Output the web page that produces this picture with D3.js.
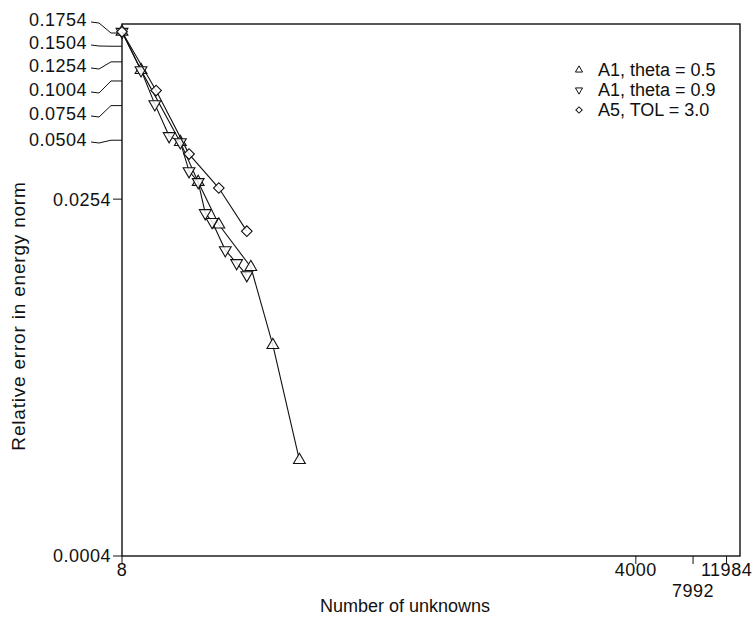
<!DOCTYPE html>
<html>
<head>
<meta charset="utf-8">
<script src="https://cdn.jsdelivr.net/npm/d3@7"></script>
<style>
  body { margin: 0; background: #fff; }
  svg { display: block; }
  text { font-family: "Liberation Sans", Arial, sans-serif; fill: #111; }
</style>
</head>
<body>
<div id="chart"></div>
<script>
// values (log-log axes)
var xTicks = [8, 4000, 7992, 11984];
var yTicks = [0.0004, 0.0254, 0.0504, 0.0754, 0.1004, 0.1254, 0.1504, 0.1754];

var theta05X = [8, 10.07, 16.2, 20.1, 25.8, 38.0, 49.6, 68.4];
var theta05Y = [0.178, 0.1139, 0.0493, 0.0310, 0.0189, 0.01153, 0.00465, 0.00122];

var theta09X = [8, 10.07, 11.9, 14.15, 16.2, 18.0, 20.1, 21.9, 23.8, 27.9, 32.0, 36.2];
var theta09Y = [0.178, 0.1139, 0.0767, 0.0529, 0.0493, 0.0352, 0.0310, 0.0216, 0.0195, 0.01404, 0.01208, 0.0105];

var tolX = [8, 12.08, 18.0, 25.8, 36.2];
var tolY = [0.178, 0.0898, 0.0429, 0.0289, 0.0175];

var seriesNames = ["A1, theta = 0.5", "A1, theta = 0.9", "A5, TOL = 3.0"];

(function() {
	var width = 754, height = 617;
	var left = 122, right = 740, top = 24, bottom = 556;

	var svg = d3.select("#chart").append("svg")
		.attr("width", width)
		.attr("height", height);

	var x = d3.scaleLog().domain([8, 14100]).range([left, right]);
	var y = d3.scaleLog().domain([0.0004, 0.1948]).range([bottom, top]);

	// frame
	svg.append("rect")
		.attr("x", left).attr("y", top)
		.attr("width", right - left).attr("height", bottom - top)
		.attr("fill", "none").attr("stroke", "#111").attr("stroke-width", 1.4);

	// x axis ticks + labels (7992 dropped a line so it doesn't collide)
	var xg = svg.append("g");
	xTicks.forEach(function(t, i) {
		xg.append("line")
			.attr("x1", x(t)).attr("x2", x(t))
			.attr("y1", bottom).attr("y2", bottom + 8)
			.attr("stroke", "#111").attr("stroke-width", 1);
		xg.append("text")
			.attr("x", x(t))
			.attr("y", t === 7992 ? bottom + 41 : bottom + 20)
			.attr("text-anchor", "middle")
			.style("font-size", "18px")
			.style("letter-spacing", "0.5px")
			.text(t);
	});

	// y axis: top labels are crowded, so they sit on a fixed ladder with leader lines
	var labelY = {0.0004: bottom, 0.0254: y(0.0254) + 1, 0.0504: 140, 0.0754: 114, 0.1004: 90, 0.1254: 66, 0.1504: 43, 0.1754: 20};
	var yg = svg.append("g");
	yTicks.forEach(function(t) {
		var ty = y(t), ly = labelY[t];
		var leader = t <= 0.0254;
		if (leader) {
			yg.append("line")
				.attr("x1", left - 9).attr("x2", left)
				.attr("y1", ty).attr("y2", ty)
				.attr("stroke", "#111").attr("stroke-width", 1);
			yg.append("text")
				.attr("x", left - 11).attr("y", ly)
				.attr("dy", "0.35em")
				.attr("text-anchor", "end")
				.style("font-size", "18px")
				.style("letter-spacing", "0.5px")
				.text(t);
		} else {
			yg.append("path")
				.attr("d", d3.line()([[91, ly + 2], [99, ly + 3], [111, ty], [left, ty]]))
				.attr("fill", "none").attr("stroke", "#111").attr("stroke-width", 1);
			yg.append("text")
				.attr("x", 87).attr("y", ly)
				.attr("dy", "0.35em")
				.attr("text-anchor", "end")
				.style("font-size", "18px")
				.style("letter-spacing", "0.5px")
				.text(t);
		}
	});

	// axis titles
	svg.append("text")
		.attr("x", (left + right) / 2 - 26).attr("y", 612)
		.attr("text-anchor", "middle")
		.style("font-size", "18px")
		.text("Number of unknowns");
	svg.append("text")
		.attr("transform", "translate(25," + 316 + ") rotate(-90)")
		.attr("text-anchor", "middle")
		.style("font-size", "19px")
		.style("letter-spacing", "0.8px")
		.text("Relative error in energy norm");

	var line = d3.line().x(function(d) { return x(d[0]); }).y(function(d) { return y(d[1]); });
	var triUp = d3.symbol().type(d3.symbolTriangle).size(60);
	var square = d3.symbol().type(d3.symbolSquare).size(56);

	var series = [
		{xs: theta05X, ys: theta05Y, sym: triUp, rot: 0},
		{xs: theta09X, ys: theta09Y, sym: triUp, rot: 180},
		{xs: tolX, ys: tolY, sym: square, rot: 45}
	];

	series.forEach(function(s) {
		var pts = d3.zip(s.xs, s.ys);
		svg.append("path")
			.attr("d", line(pts))
			.attr("fill", "none").attr("stroke", "#111").attr("stroke-width", 1.1);
		svg.append("g").selectAll("path")
			.data(pts)
			.join("path")
			.attr("d", s.sym)
			.attr("transform", function(d) { return "translate(" + x(d[0]) + "," + y(d[1]) + ") rotate(" + s.rot + ")"; })
			.attr("fill", "#fff").attr("fill-opacity", 0.85)
			.attr("stroke", "#111").attr("stroke-width", 1.1);
	});

	// legend
	var legendSyms = [d3.symbol().type(d3.symbolTriangle).size(22), d3.symbol().type(d3.symbolTriangle).size(22), d3.symbol().type(d3.symbolSquare).size(20)];
	var legendRot = [0, 180, 45];
	var lg = svg.append("g").attr("transform", "translate(579,70)");
	seriesNames.forEach(function(name, i) {
		lg.append("path")
			.attr("d", legendSyms[i])
			.attr("transform", "translate(0," + (i * 20) + ") rotate(" + legendRot[i] + ")")
			.attr("fill", "none").attr("stroke", "#111").attr("stroke-width", 1);
		lg.append("text")
			.attr("x", 19).attr("y", i * 20)
			.attr("dy", "0.35em")
			.style("font-size", "18px")
			.text(name);
	});
})();
</script>
</body>
</html>
